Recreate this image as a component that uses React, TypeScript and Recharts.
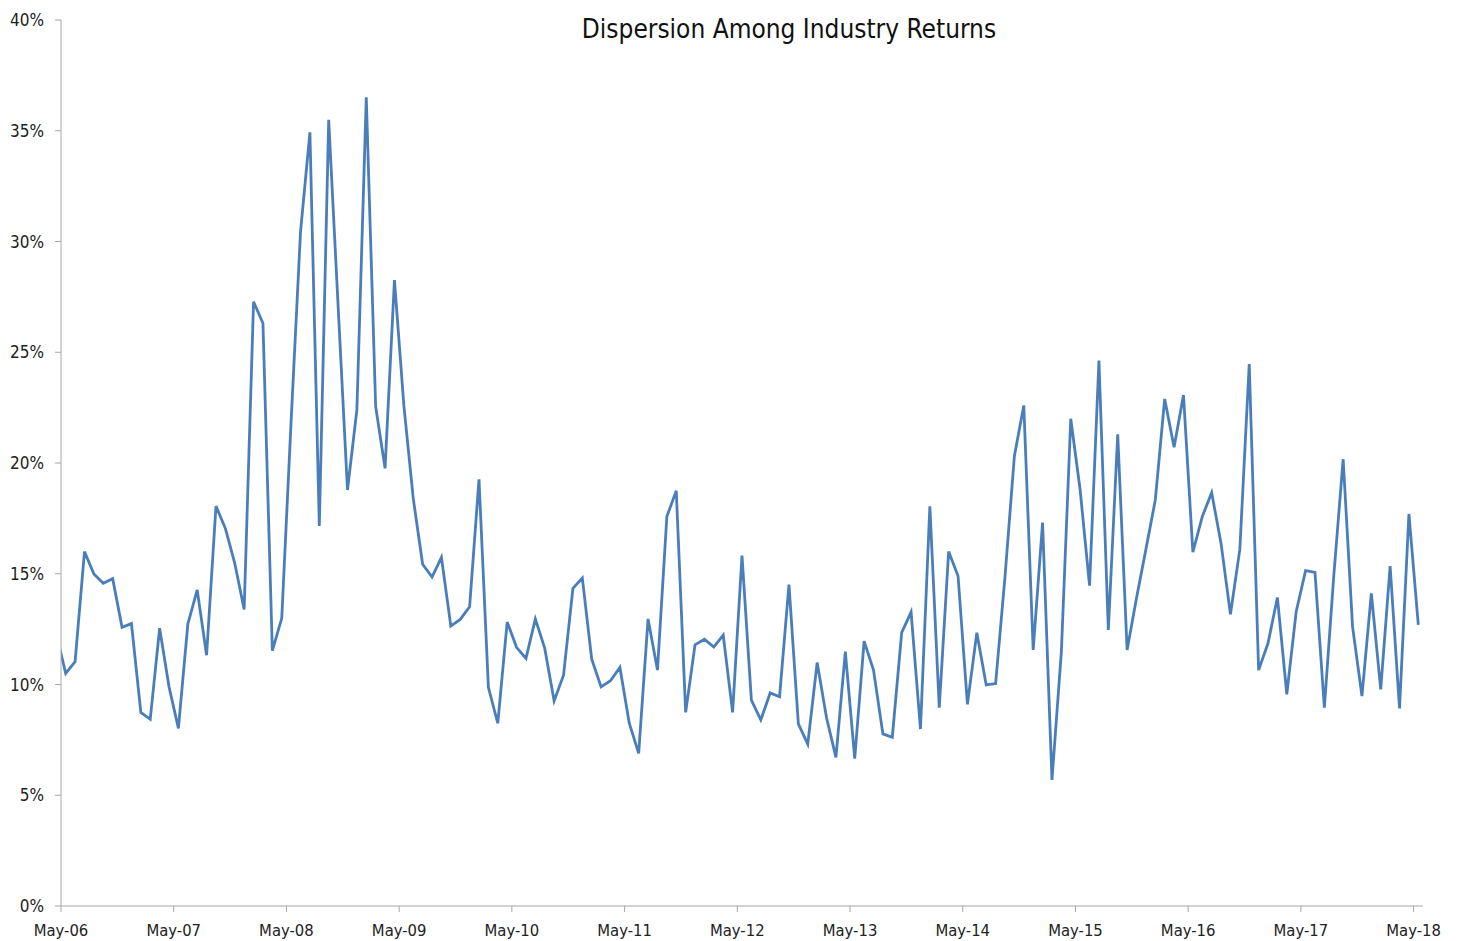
import React from "react";
import { LineChart, Line, XAxis, YAxis } from "recharts";

// monthly dispersion (%), first value is mid-Apr-06 (just left of the axis start)
const dispersion = [
  12.3, 10.5, 11.03, 16.0, 14.99, 14.57, 14.78, 12.58, 12.75, 8.74, 8.43, 12.54, 9.9,
  8.02, 12.72, 14.27, 11.32, 18.06, 17.05, 15.47, 13.39, 27.28, 26.31, 11.53, 12.99,
  21.9, 30.44, 34.93, 17.16, 35.49, 27.1, 18.78, 22.4, 36.51, 22.54, 19.76, 28.26,
  22.6, 18.4, 15.43, 14.85, 15.74, 12.64, 12.94, 13.51, 19.26, 9.87, 8.25, 12.82,
  11.68, 11.18, 12.96, 11.63, 9.26, 10.42, 14.34, 14.81, 11.14, 9.89, 10.17, 10.77,
  8.25, 6.89, 12.96, 10.65, 17.58, 18.75, 8.74, 11.79, 12.04, 11.69, 12.23, 8.74,
  15.82, 9.29, 8.4, 9.62, 9.45, 14.51, 8.22, 7.31, 10.99, 8.5, 6.71, 11.48, 6.65,
  11.96, 10.65, 7.77, 7.62, 12.34, 13.27, 7.99, 18.05, 8.95, 16.0, 14.9, 9.1, 12.34,
  9.98, 10.04, 14.87, 20.32, 22.6, 11.56, 17.31, 5.69, 11.48, 22.0, 18.78, 14.46,
  24.62, 12.46, 21.29, 11.56, 13.9, 16.1, 18.33, 22.89, 20.71, 23.07, 15.97, 17.58,
  18.66, 16.37, 13.17, 16.1, 24.47, 10.65, 11.86, 13.93, 9.56, 13.29, 15.14, 15.06,
  8.95, 14.9, 20.17, 12.61, 9.48, 14.11, 9.78, 15.35, 8.92, 17.7, 12.69,
];

const tickLabels = [
  "May-06", "May-07", "May-08", "May-09", "May-10", "May-11", "May-12",
  "May-13", "May-14", "May-15", "May-16", "May-17", "May-18",
];
const tickMonths = tickLabels.map((_, i) => i * 12);
const yTicks = [0, 5, 10, 15, 20, 25, 30, 35, 40];

// points sit mid-month; month 0 = May-06
const data = dispersion.map((v, i) => ({ m: i - 0.5, v }));

const font = "'Liberation Sans Narrow', 'DejaVu Sans Condensed', 'Liberation Sans', sans-serif";
const axisColor = "#a6a6a6";

export default function App() {
  return (
    <div style={{ position: "absolute", left: 0, top: 0, width: 1461, height: 941, background: "#fff", fontFamily: font }}>
      <LineChart width={1461} height={941} data={data} margin={{ top: 20, right: 38, bottom: 0, left: 0 }}>
        <text x={789} y={38} textAnchor="middle" fontSize={26} fill="#111" fontFamily={font}>
          Dispersion Among Industry Returns
        </text>
        <XAxis
          dataKey="m"
          type="number"
          domain={[0, 145]}
          ticks={tickMonths}
          allowDataOverflow
          tickFormatter={(m: number) => tickLabels[m / 12]}
          height={35}
          stroke={axisColor}
          tickSize={6}
          tickMargin={12}
          tick={{ fill: "#222", fontSize: 16.5, fontFamily: font }}
          interval={0}
        />
        <YAxis
          type="number"
          domain={[0, 40]}
          ticks={yTicks}
          width={61}
          stroke={axisColor}
          tickSize={6}
          tickMargin={11}
          tickFormatter={(v: number) => `${v}%`}
          tick={{ fill: "#222", fontSize: 17, fontFamily: font }}
          interval={0}
        />
        <Line
          type="linear"
          dataKey="v"
          stroke="#4a7ebb"
          strokeWidth={2.8}
          dot={false}
          isAnimationActive={false}
        />
      </LineChart>
    </div>
  );
}
